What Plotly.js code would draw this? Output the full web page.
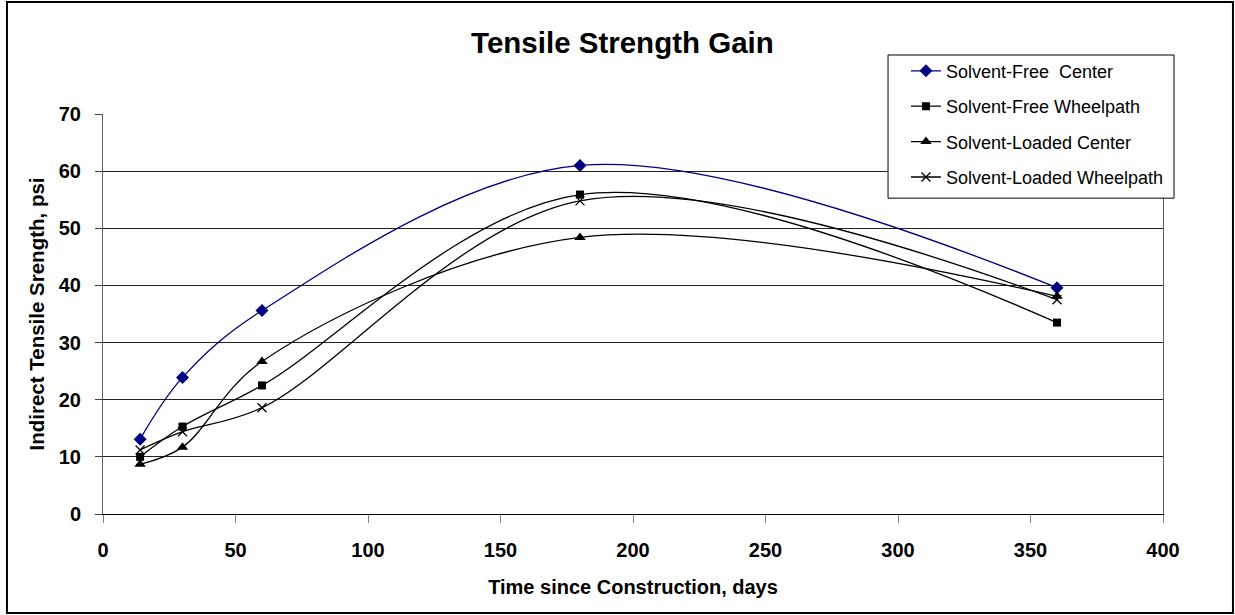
<!DOCTYPE html>
<html>
<head>
<meta charset="utf-8">
<script src="https://cdn.plot.ly/plotly-3.0.1.min.js"></script>
<style>html,body{margin:0;padding:0;background:#fff;}#chart{width:1235px;height:615px;}</style>
</head>
<body>
<div id="chart"></div>
<script>
const days = [14, 30, 60, 180, 360];
const solventFreeCenter = [13.1, 23.9, 35.6, 61.0, 39.6];
const solventFreeWheelpath = [10.0, 15.3, 22.5, 55.9, 33.5];
const solventLoadedCenter = [8.7, 11.7, 26.7, 48.4, 38.1];
const solventLoadedWheelpath = [11.2, 14.4, 18.6, 54.8, 37.5];
const seriesNames = ['Solvent-Free  Center', 'Solvent-Free Wheelpath', 'Solvent-Loaded Center', 'Solvent-Loaded Wheelpath'];
const yTicks = [0, 10, 20, 30, 40, 50, 60, 70];
const xTicks = [0, 50, 100, 150, 200, 250, 300, 350, 400];

const FONT = 'Liberation Sans, Arial, sans-serif';
function tr(y, name, color, symbol, size, grp) {
  return {
    x: days, y: y, name: name, type: 'scatter', mode: 'lines+markers',
    legendgroup: grp,
    line: {color: color, width: 1.3, shape: 'spline', smoothing: 1},
    marker: {color: color, symbol: symbol, size: size, line: {color: color, width: symbol === 'x-thin' ? 1.3 : 0}}
  };
}
const data = [
  tr(solventFreeCenter, seriesNames[0], '#000080', 'diamond', 10, 'a'),
  tr(solventFreeWheelpath, seriesNames[1], '#000000', 'square', 8, 'b'),
  tr(solventLoadedCenter, seriesNames[2], '#000000', 'triangle-up', 10, 'c'),
  tr(solventLoadedWheelpath, seriesNames[3], '#000000', 'x-thin', 9, 'd')
];
const layout = {
  width: 1235, height: 615,
  margin: {l: 103, r: 72, t: 114, b: 101},
  paper_bgcolor: '#fff', plot_bgcolor: '#fff',
  font: {family: FONT, color: '#000'},
  title: {text: '<b>Tensile Strength Gain</b>', font: {family: FONT, size: 29.5, color: '#000'},
          x: 0.504, xref: 'container', xanchor: 'center', y: 0.931, yref: 'container', yanchor: 'middle'},
  xaxis: {
    range: [0, 400], tickvals: xTicks, ticktext: xTicks.map(String),
    showgrid: false, zeroline: false,
    showline: true, linecolor: '#000', linewidth: 1,
    ticks: 'outside', ticklen: 8, tickcolor: '#808080', tickwidth: 1,
    ticklabelstandoff: 10,
    tickfont: {family: FONT, size: 20, color: '#000', weight: 'bold'},
    title: {text: '<b>Time since Construction, days</b>', font: {family: FONT, size: 20, color: '#000'}, standoff: 19}
  },
  yaxis: {
    range: [0, 70], tickvals: yTicks, ticktext: yTicks.map(String),
    showgrid: true, gridcolor: '#222', gridwidth: 1, zeroline: false,
    showline: true, linecolor: '#606060', linewidth: 1, mirror: true,
    ticks: 'outside', ticklen: 7, tickcolor: '#404040', tickwidth: 1,
    ticklabelstandoff: 10,
    tickfont: {family: FONT, size: 20, color: '#000', weight: 'bold'},
    title: {text: '<b>Indirect Tensile Srength, psi</b>', font: {family: FONT, size: 20.5, color: '#000'}, standoff: 8}
  },
  legend: {
    x: 0.7575, y: 1.1535, xanchor: 'left', yanchor: 'top',
    bgcolor: 'rgba(0,0,0,0)', bordercolor: '#000', borderwidth: 0,
    font: {family: FONT, size: 18, color: '#000'},
    tracegroupgap: 9, traceorder: 'grouped'
  },
  shapes: [
    {type: 'rect', xref: 'paper', yref: 'paper', x0: -0.0906, x1: 1.0660, y0: -0.2475, y1: 1.28,
     line: {color: '#000', width: 2}, fillcolor: 'rgba(0,0,0,0)', layer: 'below'},
    {type: 'rect', xref: 'paper', yref: 'paper', x0: 0.7406, x1: 1.0104, y0: 0.7896, y1: 1.1475,
     line: {color: '#000', width: 1}, fillcolor: '#fff', layer: 'above'}
  ],
  showlegend: true
};
Plotly.newPlot('chart', data, layout, {displayModeBar: false, staticPlot: true});
</script>
</body>
</html>
